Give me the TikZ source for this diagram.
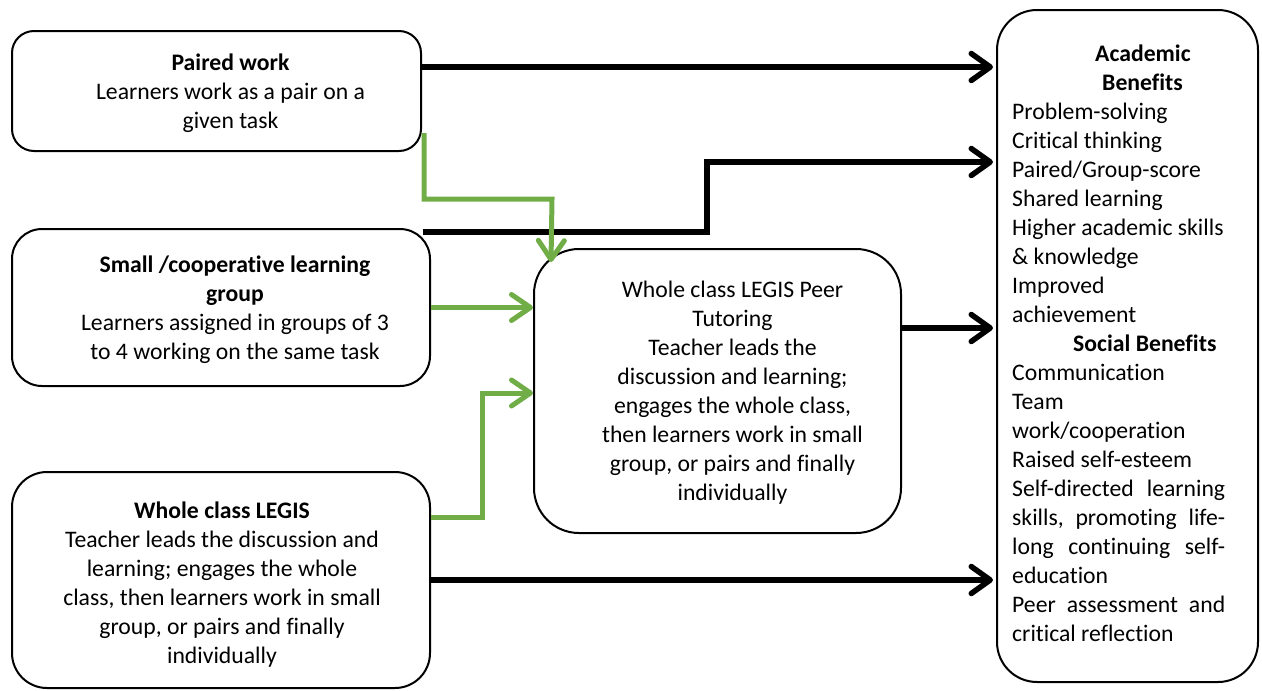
\documentclass[tikz,border=0pt]{standalone}
\usepackage{fontspec}
\setmainfont{Carlito}[Ligatures=NoCommon]
\usetikzlibrary{arrows.meta,calc}
\definecolor{grn}{HTML}{70AD47}
\newcommand{\jline}[1]{\leavevmode\hbox to 213pt{#1}}
\begin{document}
\begin{tikzpicture}[x=1pt,y=-1pt,
  box/.style={draw=black, line width=2pt, rectangle, inner sep=0pt},
  txt/.style={align=center, inner sep=0pt, font=\fontsize{23.7}{29}\selectfont},
  blk/.style={draw=black, line width=5.5pt, -{Straight Barb[length=19pt,width=27pt,round]}},
  grnarr/.style={draw=grn, line width=5pt, -{Straight Barb[length=19pt,width=26pt,round]}}]
\useasboundingbox (0,0) rectangle (1262,691);

% boxes
\node[box, rounded corners=22pt, minimum width=409pt, minimum height=120pt] (paired) at (216.5,91) {};
\node[box, rounded corners=30pt, minimum width=418pt, minimum height=157pt] (small) at (221,307.5) {};
\node[box, rounded corners=35pt, minimum width=418pt, minimum height=216pt] (whole) at (221,580) {};
\node[box, rounded corners=45pt, minimum width=367pt, minimum height=284pt] (center) at (717.5,391) {};
\node[box, rounded corners=40pt, minimum width=261pt, minimum height=672pt] (ben) at (1127.5,346) {};

% texts
\node[txt] (pairedtxt) at ($(paired.center)+(14,2)$) {\textbf{Paired work}\\Learners work as a pair on a\\given task};
\node[txt] (smalltxt) at ($(small.center)+(14,2)$) {\textbf{Small /cooperative learning}\\\textbf{group}\\Learners assigned in groups of 3\\to 4 working on the same task};
\node[txt] (wholetxt) at ($(whole.center)+(1,5)$) {\textbf{Whole class LEGIS}\\Teacher leads the discussion and\\learning; engages the whole\\class, then learners work in small\\group, or pairs and finally\\individually};
\node[txt] (centertxt) at ($(center.center)+(15,2)$) {Whole class LEGIS Peer\\Tutoring\\Teacher leads the\\discussion and learning;\\engages the whole class,\\then learners work in small\\group, or pairs and finally\\individually};
\node[txt, align=flush left, anchor=north west, text width=240pt] (bentxt) at (1012,45) {%
\hspace*{83pt}\textbf{Academic}\\
\hspace*{90pt}\textbf{Benefits}\\
Problem-solving\\
Critical thinking\\
Paired/Group-score\\
Shared learning\\
Higher academic skills\\
\& knowledge\\
Improved\\
achievement\\
\hspace*{61pt}\textbf{Social Benefits}\\
Communication\\
Team\\
work/cooperation\\
Raised self-esteem\\
\jline{Self-directed\hfill learning}\\
\jline{skills,\hfill promoting\hfill life-}\\
\jline{long\hfill continuing\hfill self-}\\
education\\
\jline{Peer\hfill assessment\hfill and}\\
critical reflection};

% coordinates for connector routing
\coordinate (a1) at (0,67);
\coordinate (b2) at (707,162);
\coordinate (c3) at (0,328);
\coordinate (g1) at (552,199);
\coordinate (g3s) at (0,517);
\coordinate (g3) at (482,393);

% black arrows
\draw[blk] (paired.east |- a1) -- ($(ben.west |- a1)+(-3,0)$);
\draw[blk] ($(small.north east)+(-8,4)$) -| (b2) -- ($(ben.west |- b2)+(-3,0)$);
\draw[blk] (center.east |- c3) -- ($(ben.west |- c3)+(-3,0)$);
\draw[blk] (whole.east) -- ($(whole.east -| ben.west)+(-3,0)$);

% green arrows
\draw[grnarr] ($(paired.south east)+(2,-19)$) |- (g1) -- ($(center.north west)+(18,14)$);
\draw[grnarr] (small.east) -- (small.east -| center.west);
\draw[grnarr] (whole.east |- g3s) -| (g3) -- (g3 -| center.west);
\end{tikzpicture}
\end{document}
